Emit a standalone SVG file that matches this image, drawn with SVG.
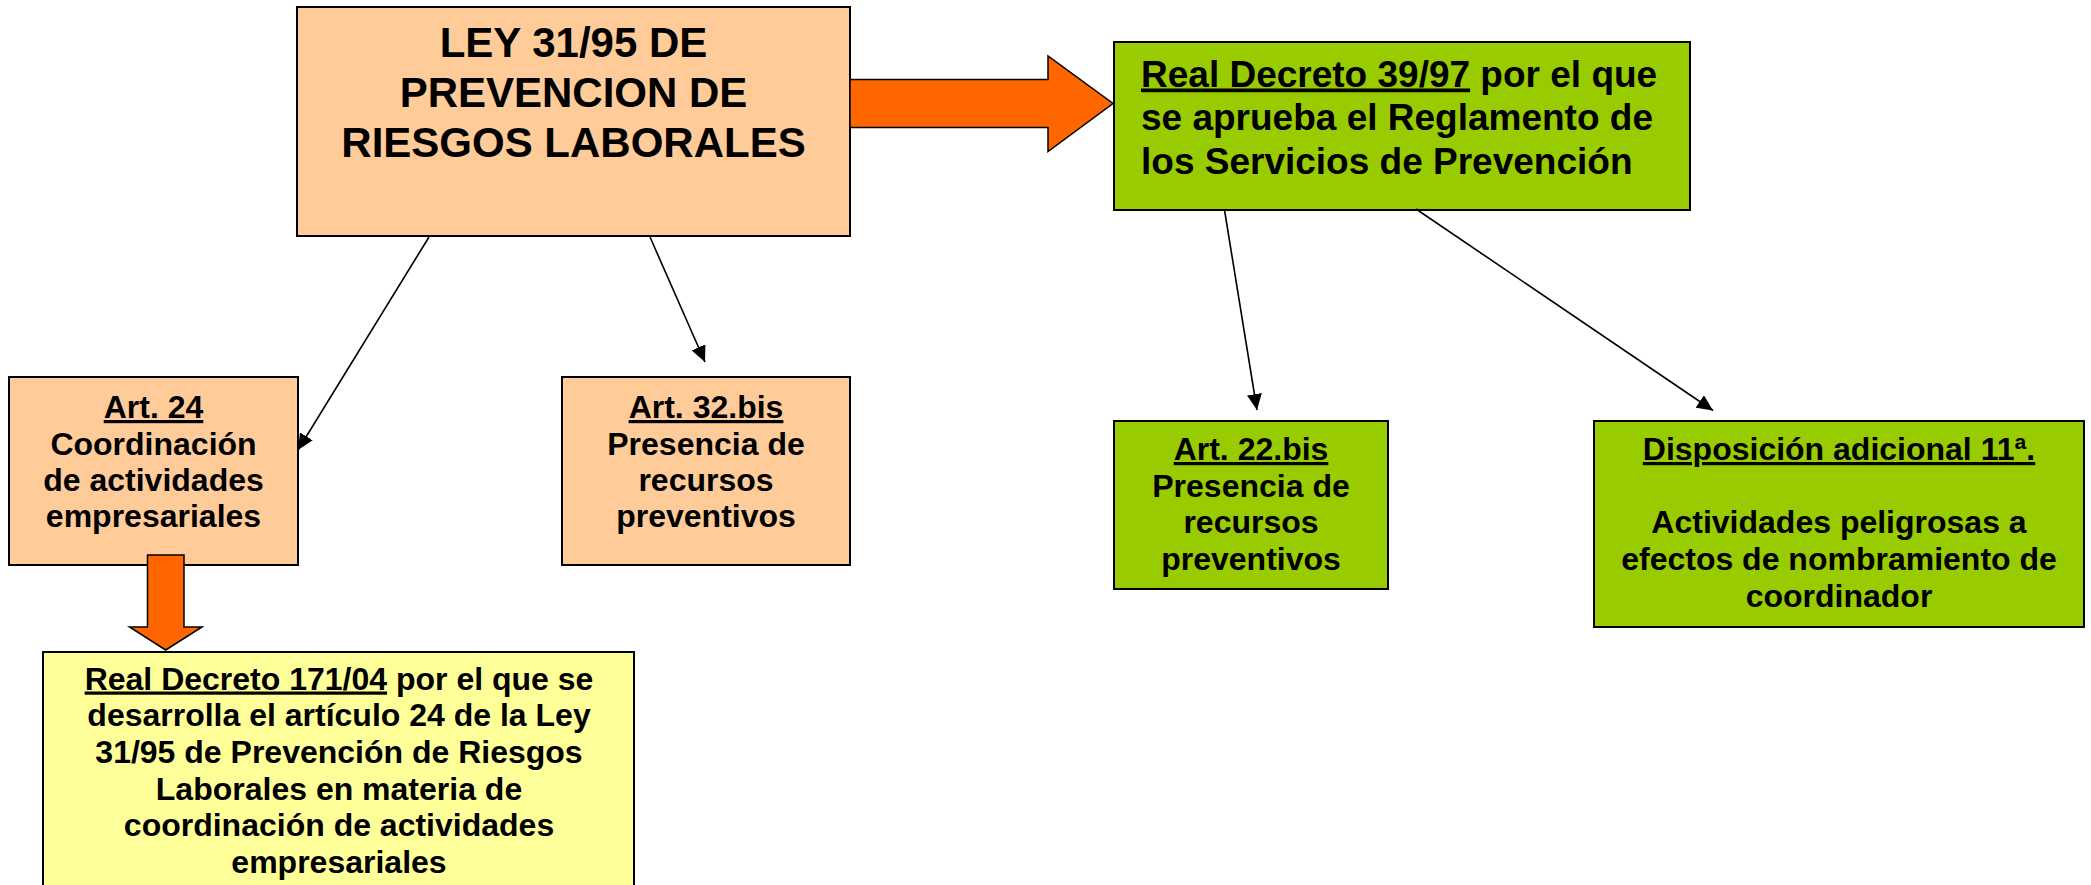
<svg xmlns="http://www.w3.org/2000/svg" width="2091" height="885" viewBox="0 0 2091 885">
<style>
  .box { stroke: #000; stroke-width: 2; }
  .peach { fill: #FFCC99; }
  .green { fill: #99CC00; }
  .yellow { fill: #FFFF99; }
  text { font-family: "Liberation Sans", Arial, sans-serif; font-weight: bold; fill: #000; }
  .big { font-size: 42px; text-anchor: middle; }
  .mid { font-size: 37px; }
  .sm { font-size: 32px; text-anchor: middle; }
  .u { text-decoration: underline; }
  .conn { stroke: #000; stroke-width: 1.6; fill: none; marker-end: url(#ah); }
  .block { fill: #FF6600; stroke: #000; stroke-width: 1.5; stroke-linejoin: miter; }
</style>
<defs>
  <marker id="ah" markerUnits="userSpaceOnUse" markerWidth="17" markerHeight="15" refX="16" refY="7.5" orient="auto" viewBox="0 0 17 15">
    <path d="M0,0 L16,7.5 L0,15 z" fill="#000"/>
  </marker>
</defs>
<rect width="2091" height="885" fill="#fff"/>

<g id="ley">
  <rect class="box peach" x="297" y="7" width="553" height="229"/>
  <text class="big" x="573.5" y="57">LEY 31/95 DE</text>
  <text class="big" x="573.5" y="107">PREVENCION DE</text>
  <text class="big" x="573.5" y="157">RIESGOS LABORALES</text>
</g>

<g id="rd3997">
  <rect class="box green" x="1114" y="42" width="576" height="168"/>
  <text class="mid" x="1141" y="86.5"><tspan class="u">Real Decreto 39/97</tspan> por el que</text>
  <text class="mid" x="1141" y="130">se aprueba el Reglamento de</text>
  <text class="mid" x="1141" y="173.5">los Servicios de Prevención</text>
</g>

<g id="art24">
  <rect class="box peach" x="9" y="377" width="289" height="188"/>
  <text class="sm" x="153.5" y="418"><tspan class="u">Art. 24</tspan></text>
  <text class="sm" x="153.5" y="454.5">Coordinación</text>
  <text class="sm" x="153.5" y="491">de actividades</text>
  <text class="sm" x="153.5" y="527">empresariales</text>
</g>

<g id="art32bis">
  <rect class="box peach" x="562" y="377" width="288" height="188"/>
  <text class="sm" x="706" y="418"><tspan class="u">Art. 32.bis</tspan></text>
  <text class="sm" x="706" y="454.5">Presencia de</text>
  <text class="sm" x="706" y="491">recursos</text>
  <text class="sm" x="706" y="527">preventivos</text>
</g>

<g id="art22bis">
  <rect class="box green" x="1114" y="421" width="274" height="168"/>
  <text class="sm" x="1251" y="460"><tspan class="u">Art. 22.bis</tspan></text>
  <text class="sm" x="1251" y="496.5">Presencia de</text>
  <text class="sm" x="1251" y="533">recursos</text>
  <text class="sm" x="1251" y="569.5">preventivos</text>
</g>

<g id="disp11">
  <rect class="box green" x="1594" y="421" width="490" height="206"/>
  <text class="sm" x="1839" y="460"><tspan class="u">Disposición adicional 11ª.</tspan></text>
  <text class="sm" x="1839" y="533">Actividades peligrosas a</text>
  <text class="sm" x="1839" y="570">efectos de nombramiento de</text>
  <text class="sm" x="1839" y="606.5">coordinador</text>
</g>

<g id="rd17104">
  <rect class="box yellow" x="43" y="652" width="591" height="250"/>
  <text class="sm" x="339" y="689.5"><tspan class="u">Real Decreto 171/04</tspan> por el que se</text>
  <text class="sm" x="339" y="726">desarrolla el artículo 24 de la Ley</text>
  <text class="sm" x="339" y="763">31/95 de Prevención de Riesgos</text>
  <text class="sm" x="339" y="800">Laborales en materia de</text>
  <text class="sm" x="339" y="836">coordinación de actividades</text>
  <text class="sm" x="339" y="872.5">empresariales</text>
</g>

<g id="connectors">
  <polygon class="block" points="850,79.5 1048,79.5 1048,56 1113,103.5 1048,151.5 1048,127.5 850,127.5"/>
  <polygon class="block" points="147.5,555 184,555 184,627 202,627 165.7,650 129.5,627 147.5,627"/>
  <line class="conn" x1="429" y1="237" x2="298" y2="450"/>
  <line class="conn" x1="650" y1="237" x2="705" y2="362"/>
  <line class="conn" x1="1224.5" y1="210" x2="1257" y2="410"/>
  <line class="conn" x1="1416" y1="209" x2="1713" y2="410.5"/>
</g>
</svg>
